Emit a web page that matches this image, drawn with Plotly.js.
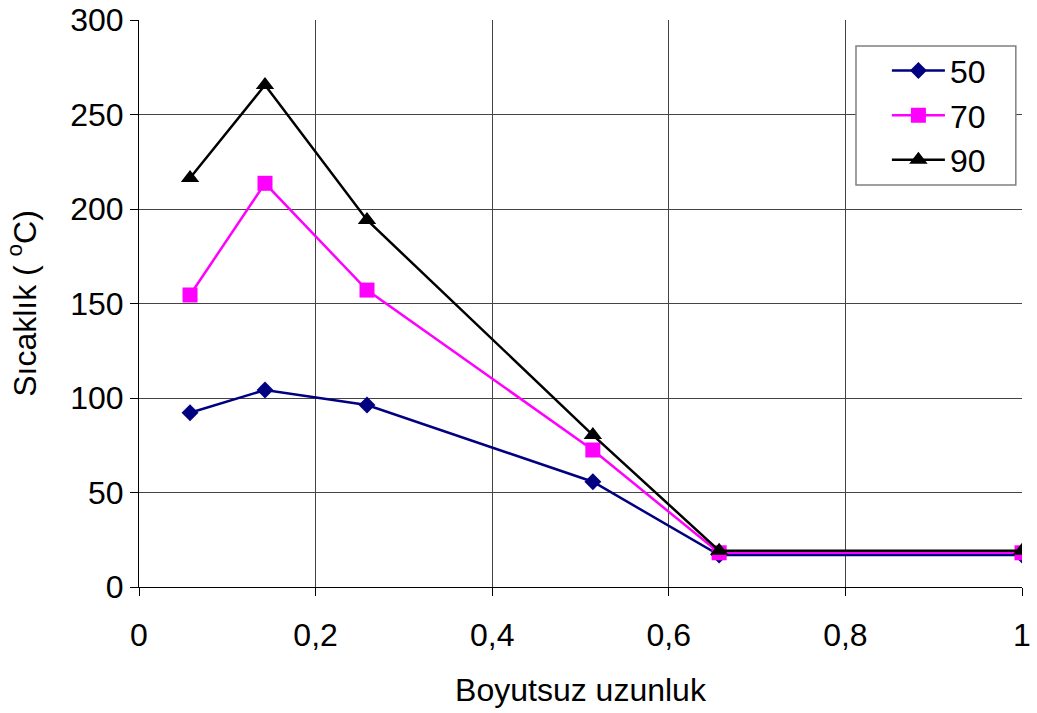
<!DOCTYPE html>
<html>
<head>
<meta charset="utf-8">
<script src="https://cdn.plot.ly/plotly-3.0.1.min.js"></script>
<style>html,body{margin:0;padding:0;background:#fff;}#chart{width:1037px;height:713px;}</style>
</head>
<body>
<div id="chart"></div>
<script>
const xValues = [0.0578, 0.1427, 0.2582, 0.514, 0.657, 1];
const seriesNames = ['50', '70', '90'];
const s50 = [92.2, 104.2, 96.3, 55.7, 16.9, 16.9];
const s70 = [154.5, 213.6, 157.1, 72.5, 18.1, 18.1];
const s90 = [216.4, 265.6, 194.2, 80.4, 19.2, 19.2];
const xTitle = 'Boyutsuz uzunluk';
const yTitle = 'Sıcaklık ( <sup>o</sup>C)';

const colors = ['#000080', '#ff00ff', '#000000'];
const symbols = ['diamond', 'square', 'triangle-up'];
const sizes = [13, 15, 16];
const data = [s50, s70, s90].map((ys, i) => ({
  x: xValues, y: ys, name: seriesNames[i], type: 'scatter', mode: 'lines+markers',
  line: {color: colors[i], width: 2.5},
  marker: {symbol: symbols[i], size: sizes[i], color: colors[i]}
}));

const font = {family: '"Liberation Sans", Arial, sans-serif', size: 32, color: '#000'};
const layout = {
  width: 1037, height: 713,
  margin: {l: 139, r: 15, t: 20, b: 126},
  paper_bgcolor: '#fff', plot_bgcolor: '#fff',
  separators: ',.',
  font: font,
  showlegend: true,
  legend: {x: 0.847, y: 0.959, xanchor: 'left', yanchor: 'top', bgcolor: 'rgba(0,0,0,0)',
    borderwidth: 0, itemwidth: 53, font: font},
  shapes: [{type: 'rect', xref: 'paper', yref: 'paper', x0: 0.812, x1: 0.993, y0: 0.709, y1: 0.954,
    line: {color: '#808080', width: 1.5}, fillcolor: '#fff', layer: 'above'}],
  xaxis: {range: [0, 1], dtick: 0.2, tick0: 0, showgrid: true, gridcolor: '#444', gridwidth: 1,
    zeroline: false, showline: true, linecolor: '#000', linewidth: 1,
    ticks: 'outside', ticklen: 8, tickcolor: '#000', tickfont: font, ticklabelstandoff: 12,
    title: {text: xTitle, font: font, standoff: 26}},
  yaxis: {range: [0, 300], dtick: 50, tick0: 0, showgrid: true, gridcolor: '#444', gridwidth: 1,
    zeroline: false, showline: true, linecolor: '#000', linewidth: 1,
    ticks: 'outside', ticklen: 8, tickcolor: '#000', tickfont: font,
    title: {text: yTitle, font: font, standoff: 24}}
};
Plotly.newPlot('chart', data, layout, {displayModeBar: false});
</script>
</body>
</html>
